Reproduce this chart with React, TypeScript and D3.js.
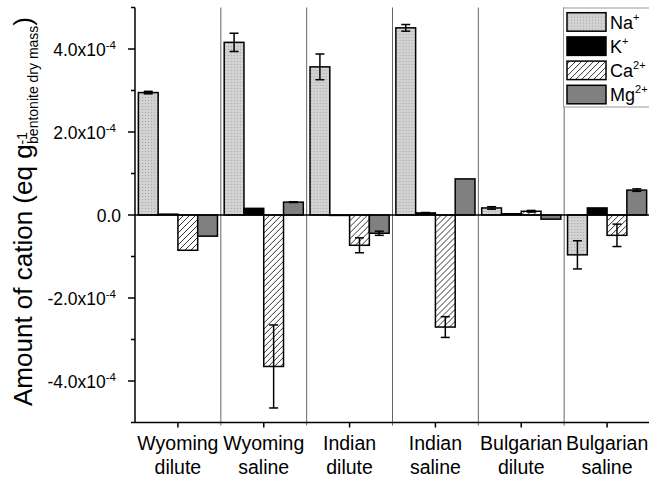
import React from 'react';
import * as d3 from 'd3';

// sample groups and cations
const categories = ['Wyoming dilute', 'Wyoming saline', 'Indian dilute', 'Indian saline', 'Bulgarian dilute', 'Bulgarian saline'];
const ions = ['Na', 'K', 'Ca', 'Mg'];
const ionCharge = ['+', '+', '2+', '2+'];

// values in eq/g (x1e-4)
const naValues = [2.95e-4, 4.16e-4, 3.57e-4, 4.51e-4, 0.17e-4, -0.96e-4];
const naErrors = [0.03e-4, 0.22e-4, 0.31e-4, 0.08e-4, 0.03e-4, 0.34e-4];
const kValues = [0.02e-4, 0.16e-4, -0.01e-4, 0.05e-4, 0.03e-4, 0.17e-4];
const kErrors = [0, 0, 0, 0.01e-4, 0, 0];
const caValues = [-0.85e-4, -3.65e-4, -0.73e-4, -2.7e-4, 0.09e-4, -0.49e-4];
const caErrors = [0, 1.0e-4, 0.18e-4, 0.25e-4, 0.02e-4, 0.27e-4];
const mgValues = [-0.51e-4, 0.31e-4, -0.44e-4, 0.87e-4, -0.1e-4, 0.6e-4];
const mgErrors = [0, 0.01e-4, 0.05e-4, 0, 0, 0.03e-4];

const yMajorTicks = [-4e-4, -2e-4, 0, 2e-4, 4e-4];
const yMinorTicks = [-5e-4, -3e-4, -1e-4, 1e-4, 3e-4, 5e-4];

const seriesValues = [naValues, kValues, caValues, mgValues];
const seriesErrors = [naErrors, kErrors, caErrors, mgErrors];
const fills = ['url(#naPat)', '#000', 'url(#caPat)', '#808080'];

const FONT = '"Liberation Sans", Arial, sans-serif';

const App = () => {
  const width = 649;
  const height = 479;
  const left = 135;
  const right = 650;

  const y = d3.scaleLinear().domain([-5e-4, 5e-4]).range([422.5, 7.5]);
  const x0 = d3.scaleBand().domain(categories).range([left, right]).padding(0);
  const x1 = d3.scaleBand().domain(ions).range([0, x0.bandwidth()]).paddingInner(0).paddingOuter(0.17);

  const tickLabel = (v) => {
    if (v === 0) return { m: '0.0', e: '' };
    const m = v / 1e-4;
    return { m: m.toFixed(1) + 'x10', e: '-4' };
  };

  return (
    <svg width={width} height={height} style={{ position: 'absolute', left: 0, top: 0 }} fontFamily={FONT}>
      <defs>
        <pattern id="naPat" width="3" height="3" patternUnits="userSpaceOnUse">
          <rect width="3" height="3" fill="#d2d2d2" />
          <rect x="1" y="1" width="1" height="1" fill="#a8a8a8" />
        </pattern>
        <pattern id="caPat" width="6" height="6" patternUnits="userSpaceOnUse">
          <rect width="6" height="6" fill="#fff" />
          <path d="M0,6 L6,0 M-1,1 L1,-1 M5,7 L7,5" stroke="#000" strokeWidth="0.8" />
        </pattern>
      </defs>

      {/* group separators */}
      {categories.slice(1).map((c) => (
        <line key={c} x1={x0(c)} x2={x0(c)} y1={y(5e-4)} y2={y(-5e-4) + 3} stroke="#666" strokeWidth={1} />
      ))}

      {/* bars */}
      {categories.map((c, ci) => (
        <g key={c} transform={`translate(${x0(c)},0)`}>
          {ions.map((ion, si) => {
            const v = seriesValues[si][ci];
            const e = seriesErrors[si][ci];
            const bx = x1(ion);
            const bw = x1.bandwidth();
            const cx = bx + bw / 2;
            return (
              <g key={ion}>
                <rect x={bx} y={Math.min(y(v), y(0))} width={bw} height={Math.abs(y(v) - y(0))}
                  fill={fills[si]} stroke="#000" strokeWidth={1.5} />
                {e > 0 && (
                  <g stroke="#000" strokeWidth={1.5}>
                    <line x1={cx} x2={cx} y1={y(v - e)} y2={y(v + e)} />
                    <line x1={cx - 4.5} x2={cx + 4.5} y1={y(v - e)} y2={y(v - e)} />
                    <line x1={cx - 4.5} x2={cx + 4.5} y1={y(v + e)} y2={y(v + e)} />
                  </g>
                )}
              </g>
            );
          })}
        </g>
      ))}

      {/* zero line */}
      <line x1={left} x2={right} y1={y(0)} y2={y(0)} stroke="#000" strokeWidth={1.5} />

      {/* y axis */}
      <line x1={left} x2={left} y1={y(5e-4)} y2={y(-5e-4)} stroke="#000" strokeWidth={1.5} />
      {yMajorTicks.map((t) => (
        <line key={t} x1={left - 7} x2={left} y1={y(t)} y2={y(t)} stroke="#000" strokeWidth={1.5} />
      ))}
      {yMinorTicks.map((t) => (
        <line key={t} x1={left - 4} x2={left} y1={y(t)} y2={y(t)} stroke="#000" strokeWidth={1.5} />
      ))}
      {yMajorTicks.map((t) => {
        const l = tickLabel(t);
        return (
          <text key={t} x={t === 0 ? 121 : 116} y={y(t) + 7} textAnchor="end" fontSize={17.5} fill="#000">
            {l.m}
            {l.e && <tspan fontSize={11.5} dy={-7}>{l.e}</tspan>}
          </text>
        );
      })}

      {/* x axis */}
      <line x1={left} x2={right} y1={y(-5e-4)} y2={y(-5e-4)} stroke="#000" strokeWidth={1.5} />
      {categories.map((c) => {
        const cx = x0(c) + x0.bandwidth() / 2;
        const [l1, l2] = c.split(' ');
        return (
          <g key={c}>
            <line x1={cx} x2={cx} y1={y(-5e-4)} y2={y(-5e-4) + 5} stroke="#000" strokeWidth={1.5} />
            <text x={cx} y={450} textAnchor="middle" fontSize={19.5} fill="#000">{l1}</text>
            <text x={cx} y={474} textAnchor="middle" fontSize={19.5} fill="#000">{l2}</text>
          </g>
        );
      })}

      {/* y axis title */}
      <text transform="translate(32,406) rotate(-90)" fontSize={26} fill="#000">
        Amount of cation (eq g
        <tspan fontSize={14} dy={-5}>-1</tspan>
        <tspan fontSize={14} dx={-12} dy={11}>bentonite dry mass</tspan>
        <tspan dy={-6}>)</tspan>
      </text>

      {/* legend */}
      <rect x={563.5} y={8} width={100} height={99} fill="#fff" stroke="#999" strokeWidth={1} />
      {ions.map((ion, i) => (
        <g key={ion} transform={`translate(0,${12.7 + i * 24.2})`}>
          <rect x={567} y={0} width={39} height={18.5} fill={fills[i]} stroke="#000" strokeWidth={1.5} />
          <text x={610} y={16} fontSize={18} fill="#000">
            {ion}
            <tspan fontSize={11} dy={-8}>{ionCharge[i]}</tspan>
          </text>
        </g>
      ))}
    </svg>
  );
};

export default App;
